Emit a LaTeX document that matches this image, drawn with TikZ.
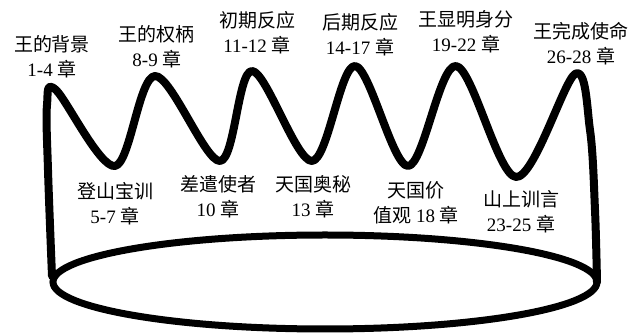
\documentclass[tikz,border=0pt]{standalone}
\usepackage{fontspec}
\setmainfont{Liberation Serif}
\newfontfamily\cjk{Noto Sans CJK SC}
\begin{document}
\begin{tikzpicture}[x=0.5pt,y=-0.5pt]
\tikzset{
	crown/.style={line width=4pt, line cap=round, line join=round},
	band/.style={line width=3.5pt},
	chapter/.style={font=\fontsize{9.5}{12.5}\selectfont, align=center, inner sep=0pt},
}
\useasboundingbox (0,0) rectangle (633,336);

 % la couronne
  \draw[crown] plot[smooth, tension=0.55] coordinates {
    (52,276) (48,170) (47,105) (56,90) (115,166) (155,76)
    (220,161) (252,71) (312,161) (355,66)
    (408,166) (456,66) (516,177) (575,74)
    (590,130) (595,210) (597,282)};
  \draw[band] (325,282) ellipse [x radius=272, y radius=47];

 % les étiquettes du haut
  \node[chapter] (back)  at (52,57)  {{\cjk 王的背景}\\1-4 {\cjk 章}};
  \node[chapter] (auth)  at (157,47) {{\cjk 王的权柄}\\8-9 {\cjk 章}};
  \node[chapter] (early) at (257,33) {{\cjk 初期反应}\\11-12 {\cjk 章}};
  \node[chapter] (late)  at (360,35) {{\cjk 后期反应}\\14-17 {\cjk 章}};
  \node[chapter] (iden)  at (466,32) {{\cjk 王显明身分}\\19-22 {\cjk 章}};
  \node[chapter] (miss)  at (581,44) {{\cjk 王完成使命}\\26-28 {\cjk 章}};

 % les étiquettes du bas
  \node[chapter] (serm)  at (115,204) {{\cjk 登山宝训}\\5-7 {\cjk 章}};
  \node[chapter] (send)  at (218,197) {{\cjk 差遣使者}\\10 {\cjk 章}};
  \node[chapter] (myst)  at (313,197) {{\cjk 天国奥秘}\\13 {\cjk 章}};
  \node[chapter] (vals)  at (416,203) {{\cjk 天国价}\\{\cjk 值观} 18 {\cjk 章}};
  \node[chapter] (olive) at (521,212) {{\cjk 山上训言}\\23-25 {\cjk 章}};
\end{tikzpicture}
\end{document}
